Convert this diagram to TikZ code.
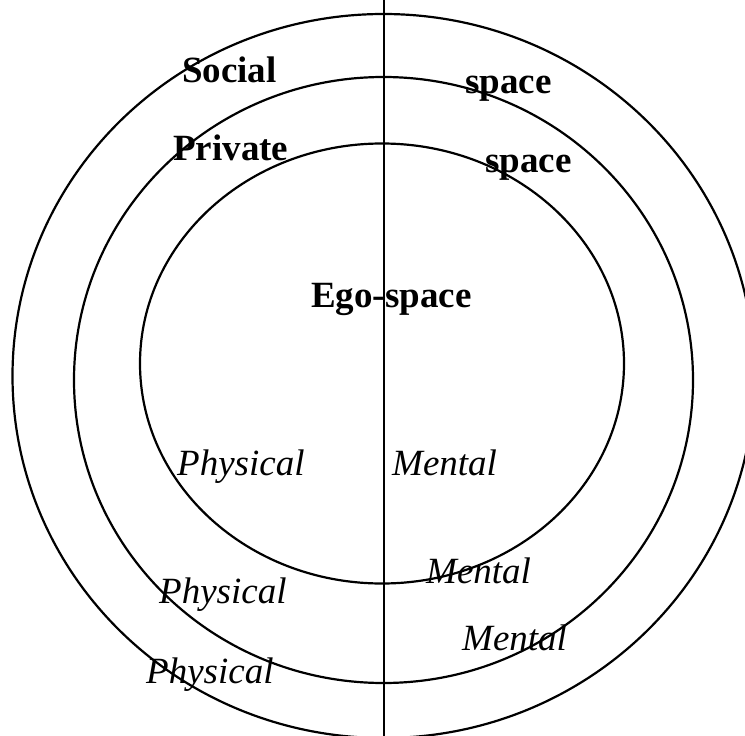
\documentclass[tikz,border=0pt]{standalone}
\usepackage{fontspec}
\setmainfont{Liberation Serif}
\tikzset{
  ring/.style={draw=black, line width=2.2pt},
  divider/.style={draw=black, line width=1.1pt},
  lbl/.style={inner sep=0pt, anchor=base west, font=\fontsize{37}{44}\selectfont},
  boldlbl/.style={lbl, font=\fontsize{37}{44}\selectfont\bfseries},
  itlbl/.style={lbl, font=\fontsize{37}{44}\selectfont\itshape}
}
\begin{document}
\begin{tikzpicture}[x=1pt,y=-1pt]
\useasboundingbox (0,0) rectangle (745,736);
\clip (0,0) rectangle (745,736);
\fill[white] (0,0) rectangle (745,736);
% rings
\coordinate (outerc) at (383.5,376);
\coordinate (middlec) at (383.5,380);
\coordinate (innerc) at (382,363.5);
\draw[ring] (outerc) ellipse [x radius=371, y radius=362];
\draw[ring] (middlec) ellipse [x radius=309.5, y radius=303];
\draw[ring] (innerc) ellipse [x radius=242, y radius=220];
% divider
\coordinate (vtop) at (384,0);
\coordinate (vbot) at (384,736);
\draw[divider] (vtop) -- (vbot);
% labels
\node[boldlbl] (social) at (182,82) {Social};
\node[boldlbl] (space1) at (465,93) {space};
\node[boldlbl] (private) at (173,160) {Private};
\node[boldlbl] (space2) at (485,172) {space};
\node[boldlbl] (ego) at (311,307) {Ego-space};
\node[itlbl] (phys1) at (177,475) {Physical};
\node[itlbl] (ment1) at (392,475) {Mental};
\node[itlbl] (phys2) at (159,603) {Physical};
\node[itlbl] (ment2) at (426,583) {Mental};
\node[itlbl] (ment3) at (462,650) {Mental};
\node[itlbl] (phys3) at (146,683) {Physical};
\end{tikzpicture}
\end{document}
